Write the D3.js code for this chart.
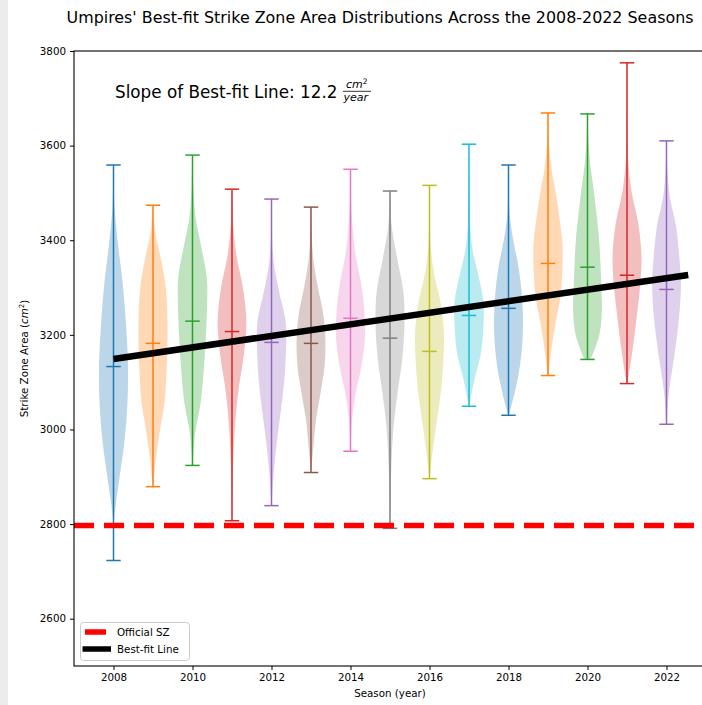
<!DOCTYPE html>
<html>
<head>
<meta charset="utf-8">
<script src="https://cdn.jsdelivr.net/npm/d3@7"></script>
<style>
  html, body { margin: 0; padding: 0; background: #ffffff; }
  svg { display: block; font-family: "DejaVu Sans", sans-serif; }
</style>
</head>
<body>
<svg id="chart" width="702" height="705"></svg>
<script>
// ---------------- data ----------------
const seasons = [2008, 2009, 2010, 2011, 2012, 2013, 2014, 2015, 2016, 2017, 2018, 2019, 2020, 2021, 2022];
const minVals = [2723, 2879, 2924, 2807, 2839, 2909, 2954, 2791, 2896, 3049, 3030, 3114, 3148, 3097, 3011];
const maxVals = [3559, 3474, 3580, 3508, 3487, 3470, 3550, 3504, 3516, 3603, 3559, 3669, 3667, 3775, 3610];
const medianVals = [3133, 3182, 3229, 3207, 3184, 3182, 3235, 3193, 3165, 3241, 3256, 3351, 3343, 3326, 3296];
// relative density (KDE) sampled at 11 evenly spaced points from min to max of each season
const densities = [
  [0.01, 0.03, 0.38, 0.76, 0.97, 1.00, 0.86, 0.64, 0.31, 0.06, 0.01],
  [0.01, 0.20, 0.48, 0.80, 0.93, 1.00, 1.00, 0.90, 0.59, 0.17, 0.01],
  [0.01, 0.17, 0.56, 0.77, 0.91, 1.00, 1.00, 0.63, 0.21, 0.06, 0.01],
  [0.01, 0.03, 0.10, 0.23, 0.47, 0.82, 1.00, 0.77, 0.31, 0.07, 0.01],
  [0.01, 0.14, 0.35, 0.62, 0.87, 1.00, 0.98, 0.52, 0.14, 0.03, 0.01],
  [0.01, 0.17, 0.35, 0.66, 0.94, 1.00, 0.84, 0.47, 0.17, 0.05, 0.01],
  [0.01, 0.09, 0.34, 0.75, 1.00, 0.96, 0.72, 0.34, 0.14, 0.03, 0.01],
  [0.01, 0.04, 0.11, 0.24, 0.52, 0.84, 1.00, 0.93, 0.50, 0.11, 0.01],
  [0.01, 0.24, 0.52, 0.80, 0.96, 1.00, 0.77, 0.31, 0.07, 0.02, 0.01],
  [0.02, 0.37, 0.82, 0.99, 1.00, 0.65, 0.24, 0.07, 0.03, 0.01, 0.01],
  [0.02, 0.47, 0.80, 0.97, 1.00, 0.90, 0.67, 0.33, 0.08, 0.03, 0.01],
  [0.02, 0.24, 0.52, 0.86, 1.00, 1.00, 0.80, 0.52, 0.21, 0.05, 0.01],
  [0.21, 0.82, 1.00, 0.95, 0.89, 0.79, 0.61, 0.41, 0.18, 0.06, 0.01],
  [0.03, 0.37, 0.65, 0.90, 1.00, 0.78, 0.31, 0.08, 0.03, 0.01, 0.01],
  [0.01, 0.14, 0.42, 0.70, 0.91, 1.00, 0.87, 0.66, 0.24, 0.06, 0.01]
];
const officialSZ = 2797;
const fitYears = [2008, 2022.55];
const fitValues = [3149, 3326.5];
const slopeLabel = "12.2";
const xTicks = [2008, 2010, 2012, 2014, 2016, 2018, 2020, 2022];
const yTicks = [2600, 2800, 3000, 3200, 3400, 3600, 3800];
const palette = ["#1f77b4", "#ff7f0e", "#2ca02c", "#d62728", "#9467bd", "#8c564b", "#e377c2", "#7f7f7f", "#bcbd22", "#17becf"];

// ---------------- layout ----------------
const svg = d3.select("#chart");
const L = 74, T = 51, R = 706, B = 666;
const x = d3.scaleLinear().domain([2007, 2023]).range([L, R]);
const y = d3.scaleLinear().domain([2500, 3800]).range([B, T]);
const violinWidth = 0.73;   // in years
const capHalf = violinWidth / 4;

// left grey strip of the window
svg.append("rect").attr("x", 0).attr("y", 0).attr("width", 8).attr("height", 705).attr("fill", "#ececec");

const plot = svg.append("g");
plot.append("clipPath").attr("id", "clip").append("rect")
  .attr("x", L).attr("y", T).attr("width", R - L).attr("height", B - T);
const g = plot.append("g").attr("clip-path", "url(#clip)");

// violins
seasons.forEach((s, i) => {
  const col = palette[i % 10];
  const dens = densities[i];
  const n = dens.length;
  const pts = dens.map((d, k) => ({ v: minVals[i] + (maxVals[i] - minVals[i]) * k / (n - 1), d }));
  const area = d3.area()
    .curve(d3.curveCatmullRom)
    .y(p => y(p.v))
    .x0(p => x(s - p.d * violinWidth / 2))
    .x1(p => x(s + p.d * violinWidth / 2));
  g.append("path").attr("d", area(pts)).attr("fill", col).attr("fill-opacity", 0.3).attr("stroke", "none");
});
// stems, caps, medians
seasons.forEach((s, i) => {
  const col = palette[i % 10];
  g.append("line").attr("x1", x(s)).attr("x2", x(s)).attr("y1", y(minVals[i])).attr("y2", y(maxVals[i]))
    .attr("stroke", col).attr("stroke-width", 1.5);
  [minVals[i], maxVals[i], medianVals[i]].forEach(v => {
    g.append("line").attr("x1", x(s - capHalf)).attr("x2", x(s + capHalf)).attr("y1", y(v)).attr("y2", y(v))
      .attr("stroke", col).attr("stroke-width", 1.5);
  });
});

// official strike zone dashed line
g.append("line").attr("x1", x(2007)).attr("x2", x(2023)).attr("y1", y(officialSZ)).attr("y2", y(officialSZ))
  .attr("stroke", "#ff0000").attr("stroke-width", 5.5).attr("stroke-dasharray", "20,10");

// best-fit line
const fitLine = d3.line().x(d => x(d[0])).y(d => y(d[1]));
g.append("path").attr("d", fitLine(fitYears.map((yr, k) => [yr, fitValues[k]])))
  .attr("fill", "none").attr("stroke", "#000").attr("stroke-width", 6.5);

// axes
const xAxis = d3.axisBottom(x).tickValues(xTicks).tickFormat(d3.format("d")).tickSize(4).tickPadding(4);
const yAxis = d3.axisLeft(y).tickValues(yTicks).tickFormat(d3.format("d")).tickSize(4).tickPadding(4);
const gx = svg.append("g").attr("transform", `translate(0,${B})`).call(xAxis);
const gy = svg.append("g").attr("transform", `translate(${L},0)`).call(yAxis);
[gx, gy].forEach(a => {
  a.select(".domain").remove();
  a.selectAll("text").attr("font-family", "DejaVu Sans").attr("font-size", 10.3).attr("fill", "#000");
  a.selectAll("line").attr("stroke", "#000").attr("stroke-width", 1);
});
// frame
svg.append("rect").attr("x", L).attr("y", T).attr("width", R - L).attr("height", B - T)
  .attr("fill", "none").attr("stroke", "#000").attr("stroke-width", 1.1);

// axis labels
svg.append("text").attr("x", (L + R) / 2).attr("y", 697).attr("text-anchor", "middle")
  .attr("font-size", 10.3).text("Season (year)");
const yl = svg.append("text").attr("transform", `translate(28,${(T + B) / 2}) rotate(-90)`)
  .attr("text-anchor", "middle").attr("font-size", 10.3);
yl.append("tspan").text("Strike Zone Area (");
yl.append("tspan").attr("font-style", "italic").text("cm");
yl.append("tspan").attr("font-size", 7).attr("dy", -4).text("2");
yl.append("tspan").attr("dy", 4).text(")");

// title
svg.append("text").attr("x", 380).attr("y", 23).attr("text-anchor", "middle")
  .attr("font-size", 15.9).text("Umpires' Best-fit Strike Zone Area Distributions Across the 2008-2022 Seasons");

// slope annotation
svg.append("text").attr("x", 115).attr("y", 98).attr("font-size", 16.8)
  .text("Slope of Best-fit Line: " + slopeLabel);
const fr = svg.append("g").attr("font-style", "italic").attr("font-size", 11);
const num = fr.append("text").attr("x", 346).attr("y", 87.5);
num.append("tspan").text("cm");
num.append("tspan").attr("font-size", 7.5).attr("dy", -4).attr("font-style", "normal").text("2");
fr.append("line").attr("x1", 343).attr("x2", 371).attr("y1", 91.3).attr("y2", 91.3).attr("stroke", "#000").attr("stroke-width", 0.8);
fr.append("text").attr("x", 343.5).attr("y", 100.5).text("year");

// legend
const lg = svg.append("g");
lg.append("rect").attr("x", 80.5).attr("y", 622.5).attr("width", 109).attr("height", 38).attr("rx", 3)
  .attr("fill", "#fff").attr("fill-opacity", 0.8).attr("stroke", "#cccccc").attr("stroke-width", 1);
lg.append("line").attr("x1", 85).attr("x2", 106).attr("y1", 632).attr("y2", 632).attr("stroke", "#ff0000").attr("stroke-width", 5.5);
lg.append("line").attr("x1", 82.5).attr("x2", 111).attr("y1", 649).attr("y2", 649).attr("stroke", "#000").attr("stroke-width", 5.5);
lg.append("text").attr("x", 117).attr("y", 635.8).attr("font-size", 10.3).text("Official SZ");
lg.append("text").attr("x", 117).attr("y", 652.8).attr("font-size", 10.3).text("Best-fit Line");
</script>
</body>
</html>
